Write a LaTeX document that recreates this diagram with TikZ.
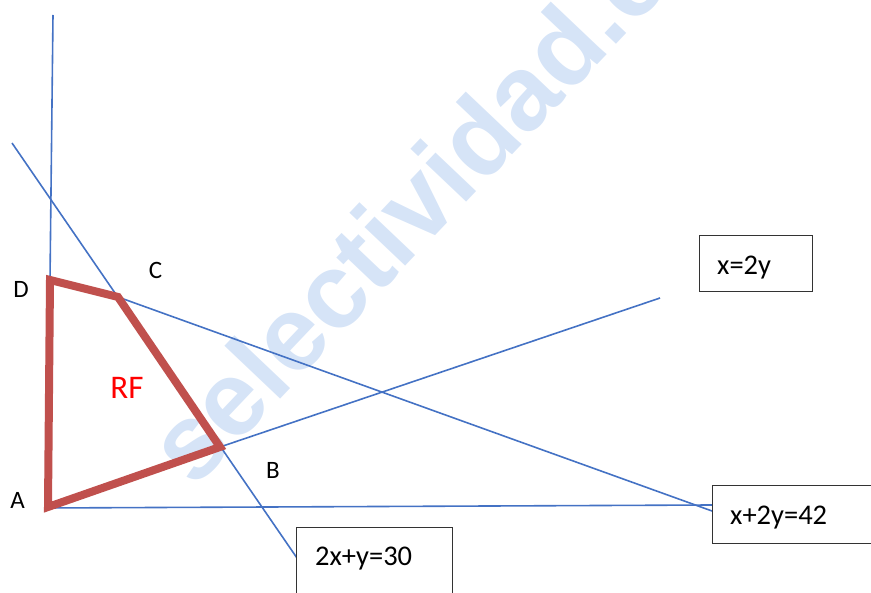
\documentclass[tikz,border=0pt]{standalone}
\usepackage{fontspec}
\setmainfont{Carlito}
\newfontfamily\wmfont{Liberation Sans}
\definecolor{lineblue}{RGB}{68,114,196}
\definecolor{regred}{RGB}{192,80,77}
\definecolor{wmblue}{RGB}{214,228,247}
\begin{document}
\begin{tikzpicture}[x=1pt,y=-1pt,
  bline/.style={draw=lineblue,line width=1.6pt},
  region/.style={draw=regred,line width=8pt,line join=miter},
  ptlabel/.style={font=\fontsize{25}{29}\selectfont,inner sep=0pt},
  eqbox/.style={draw=black!80,line width=1pt,fill=white,inner sep=0pt},
  eqtext/.style={font=\fontsize{28.5}{32}\selectfont,inner sep=0pt,anchor=base west}]
\useasboundingbox (0,0) rectangle (871,593);
% watermark
\node[anchor=base west,rotate=46.5,inner sep=0pt,text=wmblue,font=\wmfont\bfseries\fontsize{106}{112}\selectfont] (wm) at (194,490) {selectividad.es};
% points
\coordinate (A) at (48,507);
\coordinate (D) at (50,280);
\coordinate (C) at (118,297);
\coordinate (B) at (220,447);
\coordinate (ytop) at (53,15);
\coordinate (xs) at (45,508);
\coordinate (xe) at (712,505);
\coordinate (l1s) at (12,143);
\coordinate (l1e) at (321,593);
\coordinate (l2e) at (712,511);
\coordinate (l3e) at (660,298);
% lines
\draw[bline] (ytop) -- (D);
\draw[bline] (xs) -- (xe);
\draw[bline] (l1s) -- (l1e);
\draw[bline] (C) -- (l2e);
\draw[bline] (B) -- (l3e);
% feasible region
\draw[region] (A) -- (D) -- (C) -- (B) -- cycle;
% labels
\node[ptlabel] (lD) at (21,289) {D};
\node[ptlabel] (lC) at (155.5,270) {C};
\node[ptlabel] (lB) at (273,470) {B};
\node[ptlabel] (lA) at (17.5,500) {A};
\node[ptlabel,text=red,font=\fontsize{33}{38}\selectfont] (lRF) at (127,387.5) {RF};
% equation boxes
\node[eqbox,anchor=north west,minimum width=113pt,minimum height=56pt] (b1) at (699,235) {};
\node[eqtext] (t1) at (717,275) {x=2y};
\node[eqbox,anchor=north west,minimum width=200pt,minimum height=58pt] (b2) at (712,485) {};
\node[eqtext] (t2) at (730,525) {x+2y=42};
\node[eqbox,anchor=north west,minimum width=156pt,minimum height=100pt] (b3) at (296,527) {};
\node[eqtext] (t3) at (315,566) {2x+y=30};
\end{tikzpicture}
\end{document}
